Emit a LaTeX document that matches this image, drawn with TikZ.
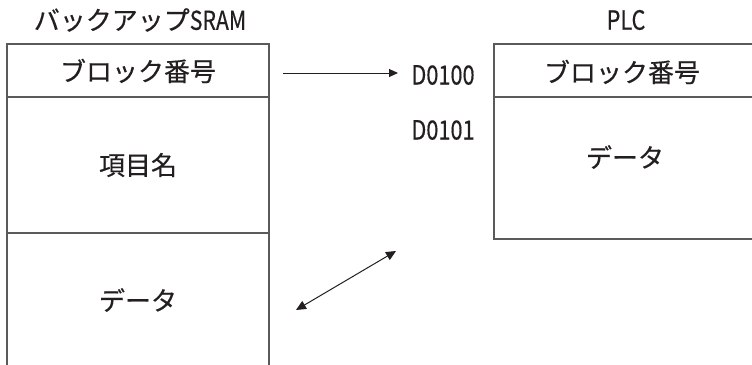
\documentclass[tikz,border=0pt]{standalone}
\usepackage{fontspec}
\setmainfont{Noto Sans CJK JP}[FakeBold=0.4]
\newfontfamily\narrow{Noto Sans CJK JP}[FakeStretch=0.82,FakeBold=0.4]
\usetikzlibrary{arrows.meta}
\definecolor{ink}{HTML}{231F20}
\definecolor{frame}{HTML}{5A5A5A}
\tikzset{
  lbl/.style={text=ink, inner sep=0pt, font=\fontsize{26}{30}\selectfont},
  lat/.style={text=ink, inner sep=0pt, font=\fontsize{26.5}{30}\selectfont\narrow},
  cell/.style={draw=frame, line width=1.5pt},
  conn/.style={draw=ink, line width=1pt},
}
\begin{document}
\begin{tikzpicture}[x=1pt,y=-1pt]
\useasboundingbox (0,0) rectangle (752,364);
\clip (0,0) rectangle (752,364);
% left box (open at bottom edge)
\draw[cell] (7,44) rectangle (269,380);
\draw[cell] (7,97) -- (269,97);
\draw[cell] (7,233) -- (269,233);
% right box (open at right edge)
\draw[cell] (494,44) rectangle (770,239);
\draw[cell] (494,97) -- (770,97);
% titles
\node[lbl] (t1) at (140,20) {バックアップ{\narrow SRAM}};
\node[lat] (t2) at (626,20) {PLC};
% left cells
\node[lbl] (lb) at (138,71) {ブロック番号};
\node[lbl] (li) at (138,165) {項目名};
\node[lbl] (ld) at (138,300) {データ};
% right cells
\node[lbl] (rb) at (622,72) {ブロック番号};
\node[lbl] (rd) at (625,157) {データ};
% addresses
\node[lat] (d100) at (443,75) {D0100};
\node[lat] (d101) at (443,130) {D0101};
% connectors
\coordinate (a1s) at (283,73);
\coordinate (a1e) at (398,73);
\draw[conn, -{Triangle[length=9pt,width=8pt]}] (a1s) -- (a1e);
\coordinate (a2s) at (296,310);
\coordinate (a2e) at (396,251);
\draw[conn, {Triangle[length=10pt,width=9pt]}-{Triangle[length=10pt,width=9pt]}] (a2s) -- (a2e);
\end{tikzpicture}
\end{document}
